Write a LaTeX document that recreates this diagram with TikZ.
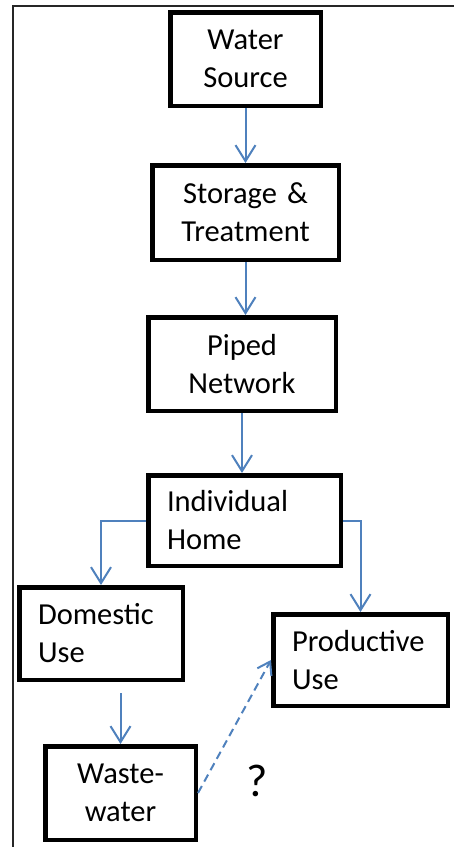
\documentclass[tikz,border=0pt]{standalone}
\usepackage{fontspec}
\setmainfont{Carlito}
\usetikzlibrary{arrows.meta}
\definecolor{arrowblue}{RGB}{79,129,189}
\begin{document}
\begin{tikzpicture}[x=1pt,y=-1pt,
  box/.style={draw=black, line width=4.5pt, inner xsep=18.75pt, inner ysep=0pt,
    font=\fontsize{30.5}{38}\selectfont},
  flow/.style={draw=arrowblue, line width=2pt,
    -{Straight Barb[length=16pt,width=20pt,line width=2pt]}},
  frameline/.style={draw=black!85, line width=1.5pt}]
\useasboundingbox (0,0) rectangle (454,847);
% frame
\coordinate (fa) at (13,847);
\coordinate (fb) at (13,6);
\coordinate (fc) at (454,6);
\draw[frameline] (fa) -- (fb) -- (fc);
% boxes
\node[box, align=center, text width=113pt, minimum height=93.5pt] (ws) at (245.5,59) {Water\\Source};
\node[box, align=center, text width=149pt, minimum height=94.5pt] (st) at (245.5,212.5) {Storage \&\\Treatment};
\node[box, align=center, text width=150pt, minimum height=93.5pt] (pn) at (242,364) {Piped\\Network};
\node[box, align=left, text width=155pt, minimum height=90.5pt] (ih) at (244.5,520.5) {Individual\\Home};
\node[box, align=left, text width=126pt, minimum height=92.5pt] (du) at (101,633.5) {Domestic\\Use};
\node[box, align=left, text width=137pt, minimum height=91.5pt] (pu) at (360.5,660) {Productive\\Use};
\node[box, align=center, text width=113pt, minimum height=93.5pt] (ww) at (120.5,793) {Waste-\\water};
\node[inner sep=0pt] (q) at (257,781) {\fontsize{46}{52}\selectfont ?};
% connectors
\draw[flow] (ws.south) -- (st.north);
\draw[flow] (st.south) -- (st.south |- pn.north);
\draw[flow] (pn.south) -- (pn.south |- ih.north);
\draw[flow] (ih.west) -| (du.north);
\draw[flow] (ih.east) -| (pu.north);
\draw[flow] ([yshift=-11pt]du.south -| ww.north) -- (ww.north);
\draw[flow, dashed, dash pattern=on 8pt off 5pt,
  -{Straight Barb[length=12pt,width=16pt,line width=2pt]}] (ww.east) -- (pu.west);
\end{tikzpicture}
\end{document}
